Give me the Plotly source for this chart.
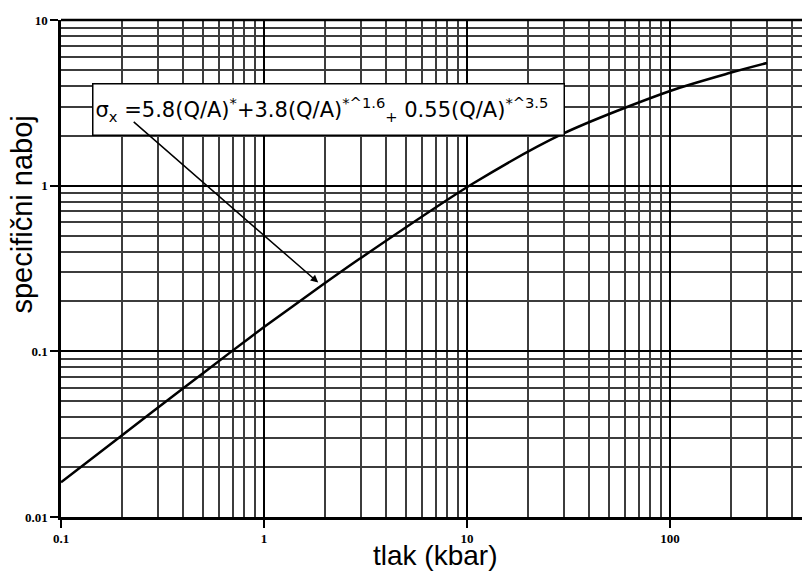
import plotly.graph_objects as go

# values
pressure_kbar = [0.1, 0.2, 0.4, 0.7, 1.0, 1.89, 2.97, 10.7, 29.7, 100, 198, 300]
specific_charge = [0.0162, 0.0312, 0.0598, 0.101, 0.140, 0.246, 0.363, 1.03, 2.06, 3.73, 4.8, 5.5]

x_tick_vals = [0.1, 1, 10, 100]
x_tick_text = ["0.1", "1", "10", "100"]
y_tick_vals = [0.01, 0.1, 1, 10]
y_tick_text = ["0.01", "0.1", "1", "10"]

x_title = "tlak (kbar)"
y_title = "specifični naboj"
formula = ("σ<sub>x</sub> =5.8(Q/A)<sup>*</sup>+3.8(Q/A)<sup>*^1.6</sup>"
           "<sub>+</sub> 0.55(Q/A)<sup>*^3.5</sup>")

fig = go.Figure()
fig.add_trace(go.Scatter(
    x=pressure_kbar, y=specific_charge, mode="lines",
    line=dict(color="black", width=2.5, shape="spline", smoothing=0.8),
    showlegend=False, hoverinfo="skip",
))

tick_font = dict(family="Liberation Serif", size=13, color="black", weight="bold")
axis_common = dict(
    type="log", tickfont=tick_font,
    ticks="outside", ticklen=8, tickwidth=1.5, tickcolor="black",
    showgrid=True, gridcolor="black", gridwidth=2,
    minor=dict(dtick="D1", showgrid=True, gridcolor="#3c3c3c", gridwidth=1.8),
    showline=True, linecolor="black", linewidth=2.5, zeroline=False,
    automargin=False,
)
fig.update_xaxes(range=[-1, 2.65], tickvals=x_tick_vals, ticktext=x_tick_text, **axis_common)
fig.update_yaxes(range=[-2, 1], tickvals=y_tick_vals, ticktext=y_tick_text, **axis_common)

fig.add_shape(type="line", xref="paper", yref="paper", x0=0, x1=1, y0=1, y1=1,
              line=dict(color="black", width=2.5))

fig.add_annotation(
    xref="paper", yref="paper", x=0.0418, y=0.874, xanchor="left", yanchor="top",
    text=formula, showarrow=False, align="left",
    font=dict(family="DejaVu Sans", size=21, color="black"),
    bgcolor="white", bordercolor="black", borderwidth=1.5, borderpad=2,
    width=466, height=46,
)
fig.add_annotation(
    x=0.267, y=-0.585, xref="x", yref="y", text="", showarrow=True,
    ax=-186, ay=-162, arrowhead=2, arrowsize=1, arrowwidth=1.5, arrowcolor="black",
)
fig.add_annotation(
    xref="paper", yref="paper", x=0.505, y=-0.112, xanchor="center", yanchor="bottom",
    text=x_title, showarrow=False,
    font=dict(family="Liberation Sans", size=28, color="black"),
)
fig.add_annotation(
    xref="paper", yref="paper", x=-0.053, y=0.608, xanchor="center", yanchor="middle",
    text=y_title, showarrow=False, textangle=-90,
    font=dict(family="Liberation Sans", size=29, color="black"),
)

fig.update_layout(
    width=802, height=571,
    margin=dict(l=61, r=0, t=20, b=54),
    paper_bgcolor="white", plot_bgcolor="white",
)
fig.write_html("out.html", config={"displayModeBar": False},
               post_script="document.body.style.margin='0';")
